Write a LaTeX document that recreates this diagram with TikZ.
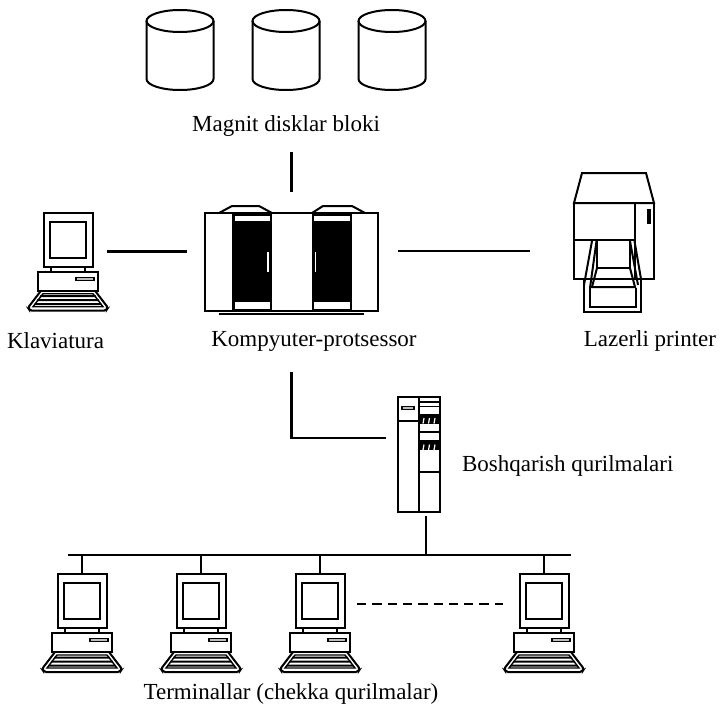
\documentclass[tikz,border=0pt]{standalone}
\usepackage{fontspec}
\setmainfont{Liberation Serif}
\usepackage{tikz}
\usetikzlibrary{
    positioning,
    calc
}

\begin{document}
\begin{tikzpicture}[x=1pt, y=-1pt, line width=2pt, line join=miter,
    unit/.style={rectangle, inner sep=0pt, outer sep=0pt},
    link/.style={line width=2.2pt},
    caption/.style={font=\fontsize{23}{27}\selectfont, inner sep=1pt},
    terminal/.pic={
        \draw (-24.5,0) rectangle (24.5,54);
        \draw (-18,9) rectangle (18,45);
        \draw (-17,54) -- (-17,59) (17,54) -- (17,59);
        \draw (-30,59) rectangle (30,78);
        \draw[line width=1.4pt, fill=black!25] (8,64.5) rectangle (26,67.5);
        \draw[rounded corners=2pt] (-27,78) -- (-40,95) -- (-38,98) -- (38,98) -- (40,95) -- (27,78);
        \draw[line width=1.4pt] (-25,81) -- (-35,94) -- (35,94) -- (25,81) -- cycle;
        \fill (-27.5,82.5) -- (27.5,82.5) -- (28.5,84.5) -- (-28.5,84.5) -- cycle;
        \fill (-30.5,86.5) -- (30.5,86.5) -- (31.5,88.5) -- (-31.5,88.5) -- cycle;
        \fill (-33,90.5) -- (33,90.5) -- (34,92.5) -- (-34,92.5) -- cycle;
    }]
    \useasboundingbox (0,0) rectangle (721,712);

    % disk block
    \foreach \cx in {180, 286, 392} {
        \draw (\cx,21) ellipse [x radius=33.5, y radius=11];
        \draw (\cx-33.5,21) -- (\cx-33.5,79) arc[start angle=180, end angle=0, x radius=33.5, y radius=11] -- (\cx+33.5,21);
    }
    \node[caption] (disks) at (286,126) {Magnit disklar bloki};

    % main computer
    \node[unit, minimum width=173pt, minimum height=108pt] (cpu) at (291.5,260) {};
    \draw[line width=2.6pt] (219,314) -- (364,314);
    \draw (205,213) rectangle (378,311);
    \fill (232,213) rectangle (272,311);
    \fill (312,213) rectangle (352,311);
    \fill[white] (234.5,215.5) rectangle (270,221);
    \fill[white] (234.5,302) rectangle (270,309);
    \fill[white] (314,215.5) rectangle (349.5,221);
    \fill[white] (314,302) rectangle (349.5,309);
    \draw[white, line width=1.8pt] (268,252) -- (268,272) (315.5,252) -- (315.5,272);
    \draw (219,213) -- (232,206) -- (259,206) -- (272,213);
    \draw (312,213) -- (323,206) -- (352,206) -- (365,213);
    \node[caption] (cpu text) at (314,341) {Kompyuter-protsessor};

    % keyboard station
    \node[unit, minimum width=80pt, minimum height=98pt] (klav) at (68,261.5) {};
    \pic at (68,212.7) {terminal};
    \node[caption, anchor=west] (klav text) at (5,341) {Klaviatura};

    % laser printer
    \node[unit, minimum width=80pt, minimum height=139pt] (printer) at (614,242.5) {};
    \draw (582,173) -- (646,173) -- (654,203) -- (574,203) -- cycle;
    \draw (574,203) rectangle (654,279);
    \draw (635,203) -- (635,279);
    \fill (647,209) rectangle (651,224);
    \draw (574,240) -- (635,240);
    \draw (597,240) -- (597,268) -- (630,268) -- (630,240);
    \draw (592,241) -- (584,285) (596.5,241) -- (590,288);
    \draw (630,241) -- (638,285) (634.5,241) -- (641,279);
    \draw (597,268) -- (592,287) -- (635,287) -- (630,268);
    \draw (584,279) -- (584,312) -- (641,312) -- (641,279);
    \draw (589.5,288) -- (589.5,307) -- (636,307) -- (636,288);
    \node[caption, anchor=east] (printer text) at (718,341) {Lazerli printer};

    % control units
    \node[unit, minimum width=42pt, minimum height=115pt] (ctrl) at (419,454.5) {};
    \draw (398,397) rectangle (440,512);
    \draw (418.5,397) -- (418.5,512);
    \draw (398,421) -- (418.5,421);
    \draw[line width=1.4pt, fill=black!25] (402,406.5) rectangle (414,409.5);
    \fill (418.5,401) rectangle (440,403);
    \fill (418.5,405.5) rectangle (440,407);
    \fill (418.5,413.5) rectangle (440,416.5);
    \fill (418.5,431) rectangle (440,433);
    \fill (418.5,440) rectangle (440,443);
    \fill (418.5,470.5) rectangle (440,473);
    \foreach \ty in {416.5, 443} {
        \fill (418.5,\ty) rectangle (440,\ty+7);
        \foreach \gx in {424, 429.5, 435} {
            \draw[white, line width=1.2pt] (\gx,\ty+1.5) -- (\gx-1,\ty+7);
        }
    }
    \node[caption, anchor=west] (ctrl text) at (460,466) {Boshqarish qurilmalari};

    % terminals on the bus
    \coordinate (bus left) at (68,555);
    \coordinate (bus right) at (571,555);
    \draw[link] (bus left) -- (bus right);
    \foreach \n/\x in {1/82, 2/201, 3/320, 4/544} {
        \node[unit, minimum width=80pt, minimum height=98pt] (term \n) at (\x,623) {};
        \pic at (\x,574) {terminal};
        \draw[link] (term \n.north) -- (term \n.north |- bus left);
    }
    \draw[link, dash pattern=on 9.3pt off 6pt, shorten <=-3pt, shorten >=1pt] ([yshift=19pt]term 3.east) -- ([yshift=19pt]term 4.west);
    \node[caption] (term text) at (291,694) {Terminallar (chekka qurilmalar)};

    % connections
    \draw[link, shorten <=14pt, shorten >=14pt] (disks.south -| cpu.north) -- (cpu.north);
    \draw[link, shorten <=-1pt, shorten >=18pt] ([yshift=10pt]klav.east) -- ([yshift=10pt]klav.east -| cpu.west);
    \draw[link, shorten <=20pt, shorten >=44pt] ([yshift=9pt]cpu.east) -- ([yshift=9pt]cpu.east -| printer.west);
    \draw[link, shorten <=58pt, shorten >=12pt] (cpu.south) |- ([yshift=16.5pt]ctrl.west);
    \draw[link, shorten <=4pt] ([xshift=7pt]ctrl.south) -- ([xshift=7pt]ctrl.south |- bus left);
\end{tikzpicture}
\end{document}
